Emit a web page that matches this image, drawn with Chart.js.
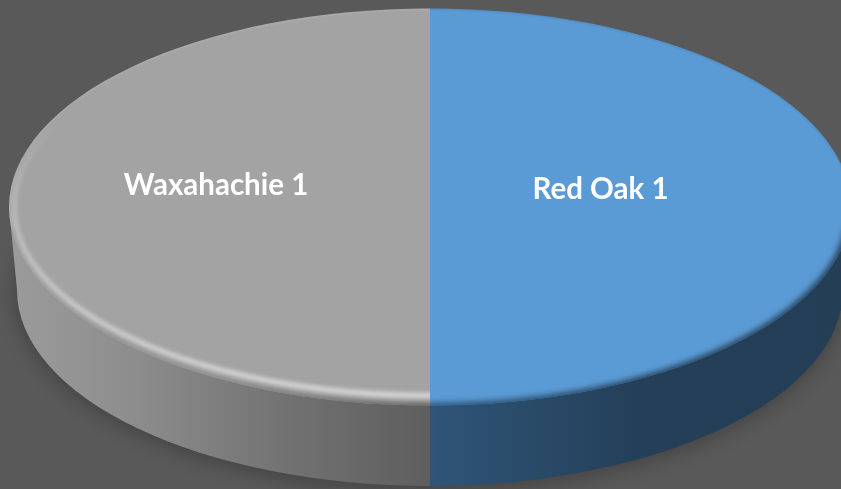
<!DOCTYPE html>
<html>
<head>
<meta charset="utf-8">
<style>
html,body{margin:0;padding:0;background:#595959;overflow:hidden}
canvas{display:block}
</style>
<script src="https://cdn.jsdelivr.net/npm/chart.js@4"></script>
</head>
<body>
<canvas id="pie" width="841" height="489"></canvas>
<script>
// Two equal shares of the disc
const categories = ['Red Oak 1', 'Waxahachie 1'];
const shares = [50, 50];
const faceColors = ['#5b9bd5', '#a3a3a3'];

// Tilted-disc projection: top face and the narrower visible base
const CX = 430, CY = 207, RX = 421, RY = 198.5;
const BASE_CY = 290, BASE_RX = 413, BASE_RY = 196;
const LABEL_SHIFT = [[170.5, -18], [-214, -22]];

function drawGroundShadow(ctx) {
  ctx.save();
  ctx.filter = 'blur(9px)';
  ctx.fillStyle = 'rgba(0,0,0,0.24)';
  ctx.beginPath();
  ctx.ellipse(CX, BASE_CY + 3, BASE_RX + 2, BASE_RY + 2, 0, 0, Math.PI * 2);
  ctx.fill();
  ctx.restore();
}

function drawWall(ctx, i) {
  ctx.beginPath();
  if (i === 0) {
    ctx.moveTo(CX, CY);
    ctx.lineTo(CX + RX, CY);
    ctx.lineTo(CX + BASE_RX, BASE_CY);
    ctx.ellipse(CX, BASE_CY, BASE_RX, BASE_RY, 0, 0, Math.PI / 2);
  } else {
    ctx.moveTo(CX, CY);
    ctx.lineTo(CX, BASE_CY + BASE_RY);
    ctx.ellipse(CX, BASE_CY, BASE_RX, BASE_RY, 0, Math.PI / 2, Math.PI);
    ctx.lineTo(CX - RX, CY);
  }
  ctx.closePath();
  const g = ctx.createLinearGradient(CX - RX, 0, CX + RX, 0);
  if (i === 0) {
    g.addColorStop(0.5, '#2f5578');
    g.addColorStop(0.62, '#294a68');
    g.addColorStop(0.76, '#243f57');
    g.addColorStop(1, '#233e55');
  } else {
    g.addColorStop(0, '#9b9b9b');
    g.addColorStop(0.14, '#8e8e8e');
    g.addColorStop(0.33, '#727272');
    g.addColorStop(0.5, '#5e5e5e');
  }
  ctx.fillStyle = g;
  ctx.fill();
}

function halfFaceClip(ctx, i) {
  ctx.beginPath();
  if (i === 0) ctx.ellipse(CX, CY, RX, RY, 0, -Math.PI / 2, Math.PI / 2);
  else ctx.ellipse(CX, CY, RX, RY, 0, Math.PI / 2, Math.PI * 1.5);
  ctx.closePath();
  ctx.clip();
}

function drawRim(ctx, i) {
  ctx.save();
  halfFaceClip(ctx, i);

  // fine line around the whole edge of the face
  ctx.filter = 'blur(1px)';
  ctx.strokeStyle = i === 0 ? 'rgba(30,60,90,0.2)' : 'rgba(255,255,255,0.16)';
  ctx.lineWidth = 2;
  ctx.beginPath();
  ctx.ellipse(CX, CY, RX, RY, 0, 0, Math.PI * 2);
  ctx.stroke();

  // soft fall-off where the face turns into the wall
  const fall = ctx.createLinearGradient(CX - RX, 0, CX + RX, 0);
  if (i === 0) {
    fall.addColorStop(0.5, 'rgba(47,85,120,1)');
    fall.addColorStop(0.76, 'rgba(36,63,87,1)');
  } else {
    fall.addColorStop(0, 'rgba(155,155,155,0.9)');
    fall.addColorStop(0.25, 'rgba(130,130,130,0.9)');
    fall.addColorStop(0.5, 'rgba(80,80,80,0.95)');
  }
  ctx.filter = i === 0 ? 'blur(3px)' : 'blur(2.5px)';
  ctx.strokeStyle = fall;
  ctx.lineWidth = i === 0 ? 7 : 6;
  ctx.beginPath();
  ctx.ellipse(CX, CY + 1, RX, RY, 0, 0.1, Math.PI - 0.1);
  ctx.stroke();

  // highlight running just inside the grey edge
  if (i === 1) {
    const lg = ctx.createLinearGradient(0, CY - 90, 0, CY + RY);
    lg.addColorStop(0, 'rgba(255,255,255,0)');
    lg.addColorStop(0.35, 'rgba(255,255,255,0.3)');
    lg.addColorStop(1, 'rgba(255,255,255,0.62)');
    ctx.filter = 'blur(2px)';
    ctx.strokeStyle = lg;
    ctx.lineWidth = 5;
    ctx.beginPath();
    ctx.ellipse(CX, CY, RX - 5, RY - 10, 0, 0, Math.PI * 2);
    ctx.stroke();
  }
  ctx.restore();
}

const tiltedDisc = {
  id: 'tiltedDisc',
  beforeDatasetsDraw(chart) {
    drawGroundShadow(chart.ctx);
  },
  beforeDatasetDraw(chart) {
    const ctx = chart.ctx;
    const arcs = chart.getDatasetMeta(0).data;
    arcs.forEach((arc, i) => drawWall(ctx, i));
    arcs.forEach(arc => {
      const r = arc.outerRadius;
      ctx.save();
      ctx.translate(CX, CY);
      ctx.scale(RX / r, RY / r);
      ctx.translate(-arc.x, -arc.y);
      arc.draw(ctx);
      ctx.restore();
    });
    arcs.forEach((arc, i) => drawRim(ctx, i));
    return false;
  },
  afterDatasetsDraw(chart) {
    const ctx = chart.ctx;
    ctx.save();
    ctx.fillStyle = '#ffffff';
    ctx.font = 'bold 29.5px Lato, "Open Sans", sans-serif';
    ctx.textAlign = 'center';
    ctx.textBaseline = 'middle';
    chart.data.labels.forEach((label, i) => {
      ctx.fillText(label, CX + LABEL_SHIFT[i][0], CY + LABEL_SHIFT[i][1]);
    });
    ctx.restore();
  }
};

new Chart(document.getElementById('pie'), {
  type: 'pie',
  data: {
    labels: categories,
    datasets: [{ data: shares, backgroundColor: faceColors, borderWidth: 0 }]
  },
  options: {
    responsive: false,
    animation: false,
    layout: { padding: 0 },
    plugins: { legend: { display: false }, tooltip: { enabled: false } }
  },
  plugins: [tiltedDisc]
});
</script>
</body>
</html>
